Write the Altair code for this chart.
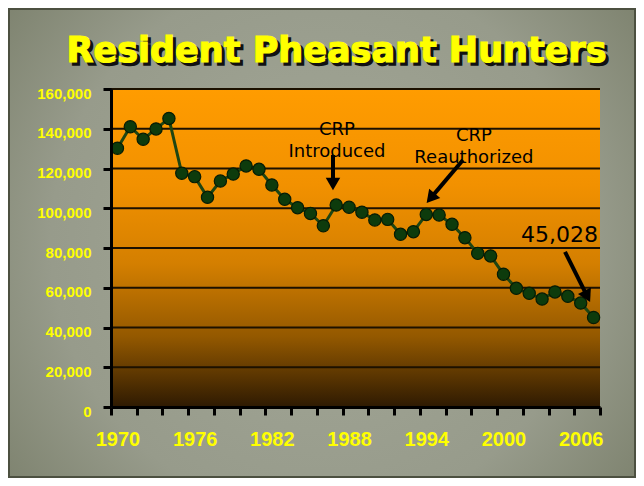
import altair as alt
import pandas as pd

# ---------------- data ----------------
years = list(range(1970, 2008))
hunters = [130200, 141000, 134700, 139900, 145200, 117600, 115900, 105500, 113700, 117200,
           121300, 119600, 111700, 104500, 100300, 97400, 91200, 101600, 100500, 98000,
           94100, 94400, 86900, 88200, 96900, 96600, 91900, 85200, 77300, 76000,
           66800, 59700, 57200, 54300, 57900, 55700, 52300, 45028]

y_ticks = [0, 20000, 40000, 60000, 80000, 100000, 120000, 140000, 160000]
grid_values = [20000, 40000, 60000, 80000, 100000, 120000, 140000, 160000]
x_tick_bounds = [1969.5, 1971.5, 1973.5, 1975.5, 1977.5, 1979.5, 1981.5, 1983.5, 1985.5, 1987.5,
                 1989.5, 1991.5, 1993.5, 1995.5, 1997.5, 1999.5, 2001.5, 2003.5, 2005.5, 2007.5]

ann_text = ["CRP\nIntroduced", "CRP\nReauthorized", "45,028"]
ann_x = [1987.06, 1997.7, 2004.35]
ann_y = [139300, 136400, 86500]
ann_size = [18, 18, 22]

arrow_x1 = [1986.75, 1996.85, 2004.78]
arrow_y1 = [126800, 124300, 78100]
arrow_x2 = [1986.75, 1994.34, 2006.51]
arrow_y2 = [112200, 105100, 55700]
arrow_angle = [0, 40, 333]

title_text = "Resident Pheasant Hunters"

W, H = 489, 318
PAD = {"left": 103, "top": 81, "right": 36, "bottom": 71}

df = pd.DataFrame({"year": years, "hunters": hunters})
grid_df = pd.DataFrame({"v": grid_values})
ann_df = pd.DataFrame({"t": ann_text, "x": ann_x, "y": ann_y, "fs": ann_size})
arr_df = pd.DataFrame({"x1": arrow_x1, "y1": arrow_y1, "x2": arrow_x2, "y2": arrow_y2, "a": arrow_angle})
title_df = pd.DataFrame({"t": [title_text]})

xscale = alt.Scale(domain=[1969.5, 2007.5], nice=False, zero=False)
yscale = alt.Scale(domain=[0, 160000], nice=False)

LABEL_FONT = "Liberation Sans"

x_axis = alt.Axis(values=x_tick_bounds,
                  labelExpr="((datum.value - 1969.5) % 6 == 0) ? toString(datum.value + 0.5) : ''",
                  labelOffset=6.43, labelOverlap=False, labelFlush=False, labelBound=False,
                  grid=False, domainColor="black", domainWidth=3,
                  tickColor="black", tickWidth=3, tickSize=8,
                  labelColor="#ffff00", labelFont=LABEL_FONT, labelFontWeight="bold",
                  labelFontSize=20, labelPadding=14, zindex=1, title=None)
y_axis = alt.Axis(values=y_ticks, format=",d", grid=False, labelOverlap=False,
                  domainColor="black", domainWidth=3,
                  tickColor="black", tickWidth=3, tickSize=8,
                  labelColor="#ffff00", labelFont=LABEL_FONT, labelFontWeight="bold",
                  labelFontSize=15, labelPadding=12, labelOffset=4, zindex=1, title=None)

# ---------------- layers ----------------
bg = alt.Chart(title_df).mark_rect(
    fill=alt.RadialGradient(
        gradient="radial",
        stops=[alt.GradientStop(color="#a4a898", offset=0),
               alt.GradientStop(color="#979b8b", offset=0.6),
               alt.GradientStop(color="#7c816d", offset=0.9),
               alt.GradientStop(color="#5f6450", offset=1)],
        x1=0.5, y1=0.5, r1=0, x2=0.5, y2=0.5, r2=0.72),
    stroke="#4c5040", strokeWidth=4,
).encode(x=alt.value(-PAD["left"]), x2=alt.value(W + PAD["right"]),
         y=alt.value(-PAD["top"]), y2=alt.value(H + PAD["bottom"]))

plot_bg = alt.Chart(title_df).mark_rect(
    fill=alt.LinearGradient(
        gradient="linear",
        stops=[alt.GradientStop(color="#ff9c00", offset=0),
               alt.GradientStop(color="#f29100", offset=0.3),
               alt.GradientStop(color="#d47f00", offset=0.55),
               alt.GradientStop(color="#935800", offset=0.78),
               alt.GradientStop(color="#2e1a02", offset=1)],
        x1=0, x2=0, y1=0, y2=1),
).encode(x=alt.value(0), x2=alt.value(W), y=alt.value(0), y2=alt.value(H))

grid = alt.Chart(grid_df).mark_rule(color="#1c1100", strokeWidth=1.8).encode(
    y=alt.Y("v:Q", scale=yscale, axis=y_axis))

line = alt.Chart(df).mark_line(color="#1e4512", strokeWidth=3).encode(
    x=alt.X("year:Q", scale=xscale, axis=x_axis),
    y=alt.Y("hunters:Q", scale=yscale, axis=y_axis),
)

points = alt.Chart(df).mark_circle(size=150, color="#0d3b0c", stroke="#061c05",
                                   strokeWidth=1.2, opacity=1).encode(
    x=alt.X("year:Q", scale=xscale, axis=x_axis),
    y=alt.Y("hunters:Q", scale=yscale, axis=y_axis))

ann = alt.Chart(ann_df).mark_text(font="DejaVu Sans", lineBreak="\n", align="center",
                                  baseline="middle", lineHeight=22, color="black").encode(
    x=alt.X("x:Q", scale=xscale, axis=x_axis), y=alt.Y("y:Q", scale=yscale, axis=y_axis),
    text="t:N", size=alt.Size("fs:Q", scale=None, legend=None))

shafts = alt.Chart(arr_df).mark_rule(color="black", strokeWidth=4).encode(
    x=alt.X("x1:Q", scale=xscale, axis=x_axis), y=alt.Y("y1:Q", scale=yscale, axis=y_axis),
    x2="x2:Q", y2="y2:Q")

heads = alt.Chart(arr_df).mark_point(shape="triangle-down", filled=True, color="black",
                                     size=210, opacity=1).encode(
    x=alt.X("x2:Q", scale=xscale, axis=x_axis), y=alt.Y("y2:Q", scale=yscale, axis=y_axis),
    angle=alt.Angle("a:Q", scale=None))

title_shadow = alt.Chart(title_df).mark_text(
    font="DejaVu Sans", fontWeight="bold", fontSize=35, align="center", baseline="alphabetic",
    color="#111111", stroke="#111111", strokeWidth=1.5).encode(
    x=alt.value(228.5), y=alt.value(-24), text="t:N")

title_main = alt.Chart(title_df).mark_text(
    font="DejaVu Sans", fontWeight="bold", fontSize=35, align="center", baseline="alphabetic",
    color="#ffff00", stroke="#ffff00", strokeWidth=1.2).encode(
    x=alt.value(225.5), y=alt.value(-27), text="t:N")

chart = alt.layer(bg, plot_bg, grid, line, points, shafts, heads, ann,
                  title_shadow, title_main).properties(
    width=W, height=H, padding=PAD,
    autosize=alt.AutoSizeParams(type="none"),
    background="#8d9180",
).configure_view(stroke=None)

chart.save("out.html", embed_options={"renderer": "svg", "actions": False})
